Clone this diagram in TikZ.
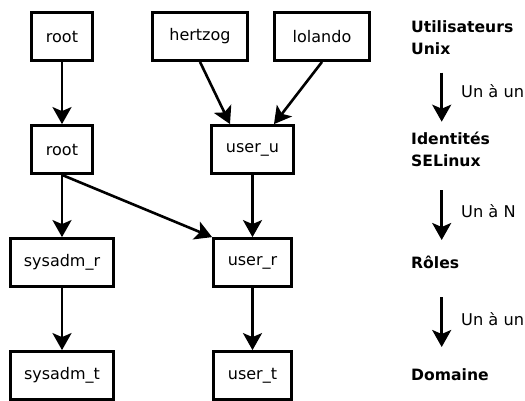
\documentclass[tikz,border=0pt]{standalone}
\usepackage{fontspec}
\setmainfont{DejaVu Sans}
\usetikzlibrary{arrows.meta}
\begin{document}
\begin{tikzpicture}[x=1pt,y=-1pt,
  box/.style={draw=black, line width=2.8pt, inner sep=0pt, minimum height=48pt, font=\fontsize{16}{18}\selectfont},
  conn/.style={line width=2.6pt, -{Stealth[length=17pt,width=19pt,inset=4pt]}},
  lvl/.style={anchor=north west, align=left, inner sep=0pt, font=\fontsize{15.6}{21.5}\selectfont\bfseries},
  card/.style={anchor=base west, inner sep=0pt, font=\fontsize{16.2}{18}\selectfont}]
\useasboundingbox[fill=white] (0,0) rectangle (525,400);
% boxes
\node[box, minimum width=61pt] (rootA) at (62,36.5) {root};
\node[box, minimum width=95pt] (hertzog) at (200,36.5) {hertzog};
\node[box, minimum width=95pt] (lolando) at (322,36.5) {lolando};
\node[box, minimum width=61pt] (rootB) at (62,149.5) {root};
\node[box, minimum width=82pt] (useru) at (252.5,149.5) {user\_u};
\node[box, minimum width=103pt] (sysr) at (62,262.5) {sysadm\_r};
\node[box, minimum width=78pt] (userr) at (252.5,262.5) {user\_r};
\node[box, minimum width=103pt] (syst) at (62,375.5) {sysadm\_t};
\node[box, minimum width=78pt] (usert) at (252.5,375.5) {user\_t};
% connectors
\draw[conn] (rootA) -- (rootB);
\draw[conn] (hertzog.south) -- ([xshift=-22.5pt]useru.north);
\draw[conn] (lolando.south) -- ([xshift=21.5pt]useru.north);
\draw[conn] (rootB) -- (sysr);
\draw[conn] (rootB.south) -- (userr.north west);
\draw[conn] (useru) -- (userr);
\draw[conn] (sysr) -- (syst);
\draw[conn] (userr) -- (usert);
% legend
\node[lvl] (l1) at (411,20.5) {Utilisateurs\\Unix};
\node[lvl] (l2) at (411,132) {Identités\\SELinux};
\node[lvl] (l3) at (411,255.5) {Rôles};
\node[lvl] (l4) at (411,368.5) {Domaine};
\coordinate (a1s) at (441.7,72.7);
\coordinate (a1e) at (441.7,121.7);
\coordinate (a2s) at (441.7,190);
\coordinate (a2e) at (441.7,240);
\coordinate (a3s) at (441.7,297);
\coordinate (a3e) at (441.7,347);
\draw[conn] (a1s) -- (a1e);
\draw[conn] (a2s) -- (a2e);
\draw[conn] (a3s) -- (a3e);
\node[card] (c1) at (461,97.5) {Un à un};
\node[card] (c2) at (461,217) {Un à N};
\node[card] (c3) at (461,325) {Un à un};
\end{tikzpicture}
\end{document}
